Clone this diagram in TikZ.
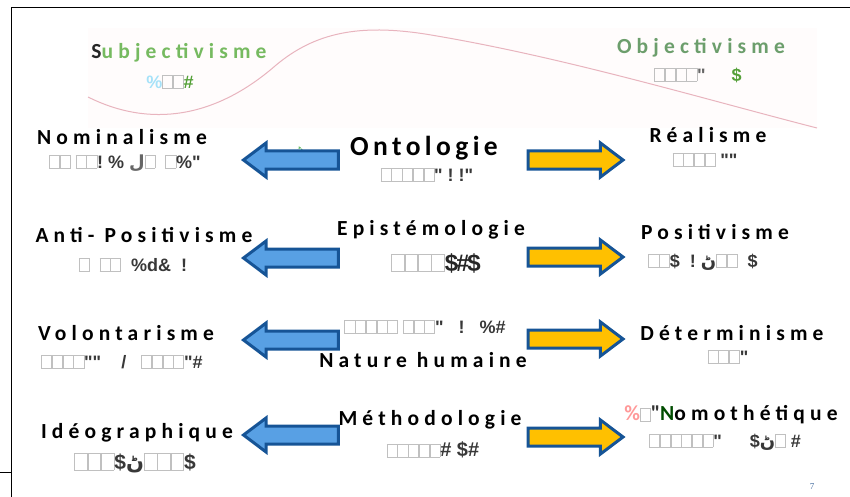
\documentclass[tikz,border=0pt]{standalone}
\usepackage{fontspec}
\usetikzlibrary{shapes.arrows}
\TeXXeTstate=1
\newfontfamily\lab{Carlito}[LetterSpace=24]
\newfontfamily\labbig{Carlito}[LetterSpace=16]
\newfontfamily\sym{Liberation Sans}
\newfontfamily\arabicfont[Script=Arabic]{DejaVu Sans}
\newfontfamily\numfont{Liberation Serif}
\definecolor{arrblue}{RGB}{22,84,150}
\definecolor{lightblue}{RGB}{88,160,228}
\definecolor{gold}{RGB}{255,192,0}
\definecolor{curvepink}{RGB}{232,180,190}
\definecolor{subjgreen}{RGB}{118,186,96}
\definecolor{objgreen}{RGB}{108,158,108}
\definecolor{symgreen}{RGB}{84,160,56}
\definecolor{boxgray}{RGB}{192,192,192}
\definecolor{pagenum}{RGB}{70,110,160}
\newcommand\gbx{\textcolor{boxgray}{\setlength\fboxsep{0pt}\setlength\fboxrule{0.6pt}\fbox{\rule{0pt}{12.5pt}\hspace{9.5pt}}}}
\newcommand\gbxb{\textcolor{boxgray}{\setlength\fboxsep{0pt}\setlength\fboxrule{0.7pt}\fbox{\rule{0pt}{16pt}\hspace{12pt}}}}
\newcommand\argl[1]{{\arabicfont\beginR #1\endR}}
\tikzset{
  lbl/.style={font=\lab\bfseries\fontsize{21.5}{23}\selectfont, inner sep=0pt},
  biglbl/.style={font=\labbig\bfseries\fontsize{27.5}{29}\selectfont, inner sep=0pt},
  garb/.style={font=\sym\bfseries\fontsize{18}{19}\selectfont, text=black!78, inner sep=0pt},
  blockarrow/.style={single arrow, draw=arrblue, line width=3pt, minimum height=95pt,
    single arrow head extend=8pt, text height=15pt, text depth=0pt, inner sep=0pt,
    single arrow tip angle=74},
  larrow/.style={blockarrow, shape border rotate=180, fill=lightblue, anchor=tip},
  rarrow/.style={blockarrow, fill=gold, anchor=tip},
  frame/.style={line width=0.8pt, black}
}
\begin{document}
\begin{tikzpicture}[x=1pt,y=-1pt]
\useasboundingbox (0,0) rectangle (850,497);
% frame
\coordinate (ftl) at (11,7);
\coordinate (ftr) at (850,7);
\coordinate (fbl) at (11,497);
\coordinate (fs1) at (0,472);
\coordinate (fs2) at (11,472);
\draw[frame] (fbl) -- (ftl) -- (ftr);
\draw[frame] (fs1) -- (fs2);
% faint background and curve
\fill[red!1] (88,28) rectangle (817,128);
\draw[curvepink, line width=1pt] (88,97) .. controls (150,128) and (215,118) .. (275,66)
  .. controls (315,32) and (360,24) .. (425,34) .. controls (560,56) and (700,98) .. (817,128);
% top labels
\node[lbl, text=subjgreen] (subj) at (179,53) {\textcolor{black!85}{S}ubjectivisme};
\node[garb] (subjg) at (170,82) {\textcolor{cyan!35}{\%\gbx\gbx}\textcolor{symgreen}{\#}};
\node[lbl, text=objgreen] (obj) at (701,48) {Objectivisme};
\node[garb] (objg) at (698,75) {\gbx\gbx\gbx\gbx\textcolor{black!60}{"}\hspace{26pt}\textcolor{symgreen}{\$}};
% row 1
\node[lbl] (nom) at (122,137) {Nominalisme};
\node[garb] (nomg) at (125,163) {\gbx\gbx\ \gbx\gbx!\ \%\ \textcolor{black!60}{\argl{ل}}\gbx\ \ \gbx\%"};
\node[biglbl] (ont) at (424,148) {Ontologie};
\node[garb] (ontg) at (427,175) {\gbx\gbx\gbx\gbx\gbx"\ !\ !"};
\node[font=\arabicfont\fontsize{9}{9}\selectfont, text=green!55!black, inner sep=0pt] (ontmark) at (300,150) {\beginR ڻ\endR};
\node[lbl] (real) at (708,135) {Réalisme};
\node[garb] (realg) at (705,160) {\gbx\gbx\gbx\gbx\ ""};
\node[larrow] (la1) at (241,160) {};
\node[rarrow] (ra1) at (625.5,160) {};
% row 2
\node[lbl] (anti) at (144,235) {Anti- Positivisme};
\node[garb] (antig) at (133,265) {\gbx\ \ \gbx\gbx\ \ \%d\&\ \ !};
\node[lbl] (epi) at (431,230) {Epistémologie};
\node[garb, font=\sym\bfseries\fontsize{24}{25}\selectfont, text=black!85] (epig) at (436,263) {\gbxb\gbxb\gbxb\gbxb\$\kern-2pt\#\kern-2pt\$};
\node[lbl] (pos) at (715,232) {Positivisme};
\node[garb] (posg) at (703,262) {\gbx\gbx\$\ \ !\ \argl{ڻ}\gbx\gbx\ \ \$};
\node[larrow] (la2) at (241,258) {};
\node[rarrow] (ra2) at (625.5,257) {};
% row 3
\node[lbl] (vol) at (126,333) {Volontarisme};
\node[garb] (volg) at (122,362) {\gbx\gbx\gbx\gbx""\ \ \ \ /\ \ \ \gbx\gbx\gbx\gbx"\#};
\node[garb] (natg) at (425,327) {\gbx\gbx\gbx\gbx\gbx\ \gbx\gbx\gbx"\ \ \ !\ \ \ \%\#};
\node[lbl] (nat) at (423,360) {Nature humaine};
\node[lbl] (det) at (732,333) {Déterminisme};
\node[garb] (detg) at (728,357) {\gbx\gbx\gbx"};
\node[larrow] (la3) at (241,340) {};
\node[rarrow] (ra3) at (625.5,339) {};
% row 4
\node[lbl] (ideo) at (137,433) {Idéographique};
\node[garb, font=\sym\bfseries\fontsize{21}{22}\selectfont] (ideog) at (135,463) {\gbxb\gbxb\gbxb\$\argl{ڻ}\gbxb\gbxb\gbxb\$};
\node[lbl] (meth) at (430,420) {Méthodologie};
\node[garb, font=\sym\bfseries\fontsize{20}{21}\selectfont] (methg) at (433,450) {\gbx\gbx\gbx\gbx\gbx\#\ \$\#};
\node[lbl] (nomo) at (731,415) {\textcolor{red!40}{\%}\textcolor{red!35}{\gbx}\textcolor{black!80}{"}\textcolor{green!30!black}{N}omothétique};
\node[garb] (nomog) at (725,442) {\gbx\gbx\gbx\gbx\gbx\gbx"\hspace{28pt}\$\argl{ڻ}\gbx\ \#};
\node[larrow] (la4) at (241,435) {};
\node[rarrow] (ra4) at (625.5,437) {};
% page number
\node[font=\numfont\fontsize{9}{9}\selectfont, text=pagenum, inner sep=0pt] (pg) at (812,487) {7};
\end{tikzpicture}
\end{document}
